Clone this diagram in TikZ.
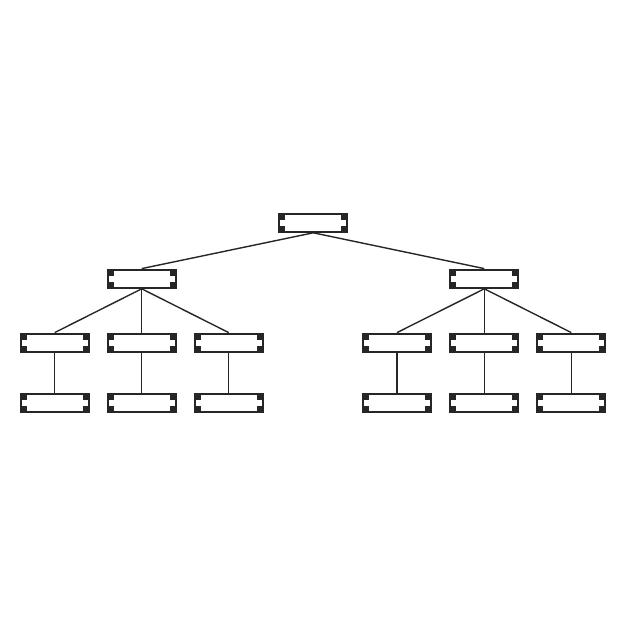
\documentclass[tikz,border=0pt]{standalone}
\usepackage{amsmath}

\begin{document}
\begin{tikzpicture}[x=1pt, y=-1pt, line width=1.4pt, color={black!85}]
    \useasboundingbox (0,0) rectangle (626,626);
    \begin{scope}[every node/.style={rectangle, draw, line width=2.2pt, minimum width=68pt, minimum height=18pt, inner sep=0pt,
        path picture={
            \fill (path picture bounding box.north west) rectangle ++(6pt,-6pt);
            \fill (path picture bounding box.north east) rectangle ++(-6pt,-6pt);
            \fill (path picture bounding box.south west) rectangle ++(6pt,6pt);
            \fill (path picture bounding box.south east) rectangle ++(-6pt,6pt);
        }}]
        \node(1) at (313.3, 222.7) {};
        \node(2) at (141.7, 278.7) {};
        \node(3) at (484.3, 278.7) {};
        \node(4) at (54.7, 342.7) {};
        \node(5) at (141.7, 342.7) {};
        \node(6) at (228.7, 342.7) {};
        \node(7) at (397, 342.7) {};
        \node(8) at (484.3, 342.7) {};
        \node(9) at (571.3, 342.7) {};
        \node(10) at (54.7, 402.7) {};
        \node(11) at (141.7, 402.7) {};
        \node(12) at (228.7, 402.7) {};
        \node(13) at (397, 402.7) {};
        \node(14) at (484.3, 402.7) {};
        \node(15) at (571.3, 402.7) {};
    \end{scope}
    \draw (1.south) -- (2.north);
    \draw (1.south) -- (3.north);
    \draw (2.south) -- (4.north);
    \draw (2.south) -- (5.north);
    \draw (2.south) -- (6.north);
    \draw (3.south) -- (7.north);
    \draw (3.south) -- (8.north);
    \draw (3.south) -- (9.north);
    \draw (4.south) -- (10.north);
    \draw (5.south) -- (11.north);
    \draw (6.south) -- (12.north);
    \draw (7.south) -- (13.north);
    \draw (8.south) -- (14.north);
    \draw (9.south) -- (15.north);
\end{tikzpicture}
\end{document}
